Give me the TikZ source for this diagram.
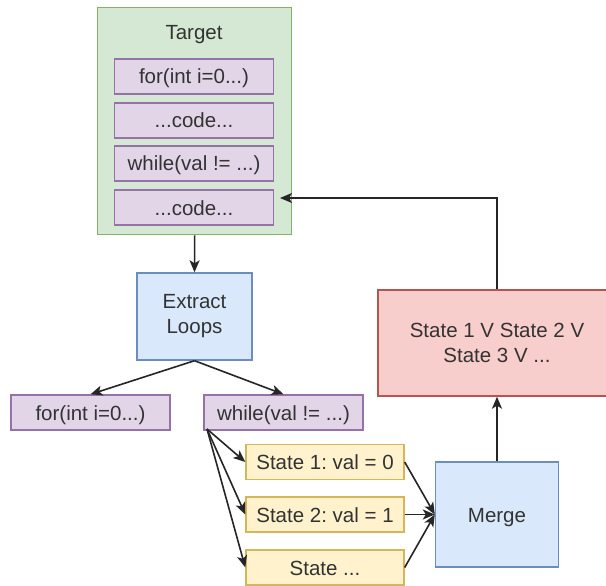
\documentclass[tikz,border=0pt]{standalone}
\usepackage{fontspec}
\setmainfont{Liberation Sans}
\usetikzlibrary{arrows.meta}
\frenchspacing
\definecolor{gfill}{HTML}{D5E8D4}\definecolor{gline}{HTML}{82B366}
\definecolor{pfill}{HTML}{E1D5E7}\definecolor{pline}{HTML}{9673A6}
\definecolor{bfill}{HTML}{DAE8FC}\definecolor{bline}{HTML}{6C8EBF}
\definecolor{rfill}{HTML}{F8CECC}\definecolor{rline}{HTML}{B85450}
\definecolor{yfill}{HTML}{FFF2CC}\definecolor{yline}{HTML}{D6B656}
\definecolor{txt}{HTML}{333333}
\begin{document}
\begin{tikzpicture}[x=1pt,y=-1pt,
  box/.style={draw, line width=1.4pt, inner sep=0pt, text=txt, align=center,
    font=\fontsize{20.5}{24}\selectfont},
  oneline/.style={text height=15pt, text depth=0pt},
  lbl/.style={text=txt, font=\fontsize{20.5}{24}\selectfont, inner sep=0pt, oneline},
  loopbox/.style={box, oneline, fill=pfill, draw=pline, minimum width=159pt, minimum height=35pt},
  statebox/.style={box, oneline, fill=yfill, draw=yline, minimum width=158pt, minimum height=35pt},
  stepbox/.style={box, fill=bfill, draw=bline},
  conn/.style={line width=1.6pt, draw=black!85, -{Stealth[length=12pt,width=10pt,inset=3pt]}}]
\useasboundingbox (0,0) rectangle (606,586);
\fill[white] (0,0) rectangle (606,586);

% target program with its code blocks
\node[box, fill=gfill, draw=gline, minimum width=194pt, minimum height=227pt, anchor=north west] (target) at (97,7) {};
\node[lbl] (tlabel) at (194,32) {Target};
\node[loopbox] (c1) at (194,76.5) {for(int i=0...)};
\node[loopbox] (c2) at (194,120.5) {...code...};
\node[loopbox] (c3) at (194,163.5) {while(val != ...)};
\node[loopbox] (c4) at (194,207.5) {...code...};

% loop extraction
\node[stepbox, minimum width=115pt, minimum height=87pt] (extract) at (194.5,316.5) {Extract\\[1pt]Loops};
\node[loopbox] (forl) at (90.5,412.5) {for(int i=0...)};
\node[loopbox] (whilel) at (283.5,412.5) {while(val != ...)};

% states of the while loop
\node[statebox] (s1) at (325,462) {State 1: val = 0};
\node[statebox] (s2) at (325,514.5) {State 2: val = 1};
\node[statebox] (s3) at (325,567.5) {State ...};

% merge and result
\node[stepbox, oneline, minimum width=123pt, minimum height=105pt] (merge) at (497,514.5) {Merge};
\node[box, fill=rfill, draw=rline, minimum width=238pt, minimum height=106pt] (result) at (497,343) {State 1 V State 2 V\\[1pt]State 3 V ...};

\coordinate (wsrc) at (207,429);
\coordinate (bend) at (497,198);
\coordinate (tip) at (280,198);

\draw[conn] (target.south) -- (extract.north);
\draw[conn] (extract.south) -- (forl.north);
\draw[conn] (extract.south) -- (whilel.north);
\draw[conn] (wsrc) -- (s1.west);
\draw[conn] (wsrc) -- (s2.west);
\draw[conn] (wsrc) -- (s3.west);
\draw[conn] (s1.east) -- (merge.west);
\draw[conn] (s2.east) -- (merge.west);
\draw[conn] (s3.east) -- (merge.west);
\draw[conn] (merge.north) -- (result.south);
\draw[conn] (result.north) -- (bend) -- (tip);
\end{tikzpicture}
\end{document}
